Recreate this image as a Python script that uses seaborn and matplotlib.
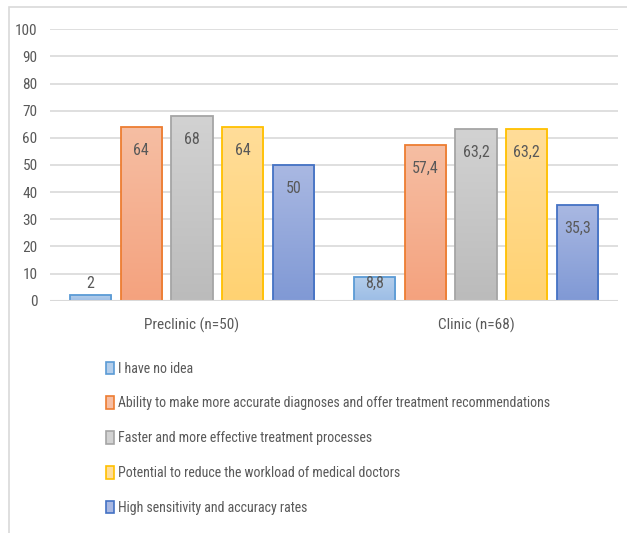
import matplotlib
matplotlib.use("Agg")
import matplotlib.pyplot as plt
import matplotlib.patches as mpatches
from matplotlib.colors import LinearSegmentedColormap
import numpy as np
import pandas as pd
import seaborn as sns

groups = ["Preclinic (n=50)", "Clinic (n=68)"]
series = [
    "I have no idea",
    "Ability to make more accurate diagnoses and offer treatment recommendations",
    "Faster and more effective treatment processes",
    "Potential to reduce the workload of medical doctors",
    "High sensitivity and accuracy rates",
]
preclinic_values = [2, 64, 68, 64, 50]
clinic_values = [8.8, 57.4, 63.2, 63.2, 35.3]
value_labels_pre = ["2", "64", "68", "64", "50"]
value_labels_cli = ["8,8", "57,4", "63,2", "63,2", "35,3"]

edge_colors = ["#5B9BD5", "#ED7D31", "#A5A5A5", "#FFC000", "#4472C4"]
top_colors = ["#B4CEEB", "#F6BEA3", "#D2D2D2", "#FFDD99", "#A9B8E2"]
bottom_colors = ["#9CBDE6", "#F4A27E", "#BBBBBB", "#FFD272", "#8099D5"]

df = pd.DataFrame({
    "group": [g for g in groups for _ in series],
    "series": series * 2,
    "value": preclinic_values + clinic_values,
    "label": value_labels_pre + value_labels_cli,
})

sns.set_theme(style="white")
FONT = ["Liberation Sans Narrow", "DejaVu Sans Condensed", "Roboto Condensed",
        "Roboto", "DejaVu Sans"]
plt.rcParams["font.family"] = FONT
TXT = "#595959"

fig = plt.figure(figsize=(6.27, 5.33), dpi=100)
ax = fig.add_axes([50 / 627, 1 - 300.7 / 533, (618 - 50) / 627, (300.7 - 29.3) / 533])

sns.barplot(data=df, x="group", y="value", hue="series", hue_order=series,
            order=groups, palette=top_colors, width=0.893, gap=0.19,
            ax=ax, legend=False, saturation=1)

ax.set_ylim(0, 100)
ax.set_xlim(-0.5, 1.5)
ax.set_yticks(range(0, 101, 10))
ax.grid(axis="y", color="#D9D9D9", linewidth=1.2)
ax.set_axisbelow(True)
for s in ax.spines.values():
    s.set_visible(False)
ax.axhline(0, color="#D9D9D9", linewidth=1.5, zorder=1)
ax.tick_params(axis="both", length=0, labelsize=11, colors=TXT)
ax.tick_params(axis="x", pad=12)
ax.tick_params(axis="y", pad=9)
ax.set_xlabel("")
ax.set_ylabel("")

for ci, cont in enumerate(ax.containers):
    for gi, bar in enumerate(cont):
        bar.set_edgecolor(edge_colors[ci])
        bar.set_linewidth(1.3)
        x0, y0 = bar.get_x(), bar.get_y()
        w, h = bar.get_width(), bar.get_height()
        cmap = LinearSegmentedColormap.from_list("g", [bottom_colors[ci], top_colors[ci]])
        grad = np.linspace(0, 1, 100).reshape(-1, 1)
        im = ax.imshow(grad, extent=[x0, x0 + w, y0, y0 + h], origin="lower",
                       aspect="auto", cmap=cmap, zorder=bar.get_zorder() - 0.01)
        im.set_clip_path(bar)
        bar.set_facecolor("none")
        lab = df[(df["group"] == groups[gi]) & (df["series"] == series[ci])]["label"].iloc[0]
        ypos = max(h - 8.6, 6.5)
        ax.text(x0 + w / 2, ypos, lab, ha="center", va="center",
                fontsize=11.5, color=TXT, zorder=5)

ax.set_ylim(0, 100)
ax.set_xlim(-0.5, 1.5)

handles = [mpatches.Patch(facecolor=top_colors[i], edgecolor=edge_colors[i], linewidth=1.2)
           for i in range(len(series))]
leg = fig.legend(handles, series, loc="upper left",
                 bbox_to_anchor=(100 / 627, 1 - 356 / 533), frameon=False,
                 fontsize=10, labelcolor=TXT, handlelength=0.6, handleheight=1.0,
                 handletextpad=0.3, labelspacing=1.5, borderaxespad=0)

fig.patches.append(mpatches.Rectangle((9 / 627, -0.05), 1.2, 1 - 7 / 533 + 0.05,
                                      transform=fig.transFigure, fill=False,
                                      edgecolor="#D9D9D9", linewidth=1.2))

fig.savefig("out.png", dpi=100)
